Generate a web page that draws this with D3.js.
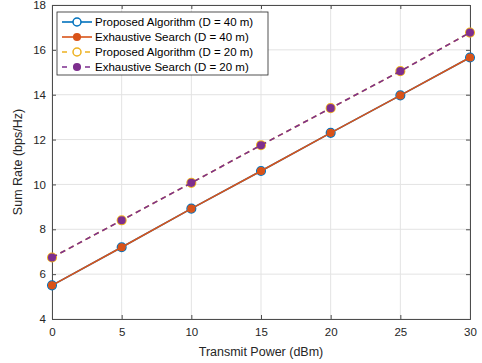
<!DOCTYPE html>
<html>
<head>
<meta charset="utf-8">
<script src="https://cdn.jsdelivr.net/npm/d3@7"></script>
<style>
    body { margin: 0; background: #fff; }
    text { font-family: "Liberation Sans", Arial, sans-serif; }
</style>
</head>
<body>
<script>
const power = [0, 5, 10, 15, 20, 25, 30];
const propD40 = [5.5, 7.2, 8.92, 10.6, 12.3, 13.97, 15.66];
const exhD40 = [5.5, 7.2, 8.92, 10.6, 12.3, 13.97, 15.66];
const propD20 = [6.74, 8.4, 10.07, 11.75, 13.4, 15.05, 16.77];
const exhD20 = [6.74, 8.4, 10.07, 11.75, 13.4, 15.05, 16.77];
const xTicks = [0, 5, 10, 15, 20, 25, 30];
const yTicks = [4, 6, 8, 10, 12, 14, 16, 18];

const series = [
    { name: "Proposed Algorithm (D = 40 m)", values: propD40, color: "#0072BD", dash: null, marker: "open" },
    { name: "Exhaustive Search (D = 40 m)", values: exhD40, color: "#D95319", dash: null, marker: "filled" },
    { name: "Proposed Algorithm (D = 20 m)", values: propD20, color: "#EDB120", dash: "5.5,4", marker: "open" },
    { name: "Exhaustive Search (D = 20 m)", values: exhD20, color: "#7E2F8E", dash: "5.5,4", marker: "filled" }
];

const width = 482, height = 363;
const margin = { top: 5, right: 12, bottom: 44, left: 52 };

const svg = d3.select("body").append("svg")
    .attr("width", width)
    .attr("height", height);

const x = d3.scaleLinear().domain([0, 30]).range([margin.left, width - margin.right]);
const y = d3.scaleLinear().domain([4, 18]).range([height - margin.bottom, margin.top]);

// grid
svg.append("g").selectAll("line.vgrid")
    .data(xTicks).enter().append("line")
    .attr("x1", d => x(d)).attr("x2", d => x(d))
    .attr("y1", y(4)).attr("y2", y(18))
    .attr("stroke", "#e3e3e3").attr("stroke-width", 1);
svg.append("g").selectAll("line.hgrid")
    .data(yTicks).enter().append("line")
    .attr("x1", x(0)).attr("x2", x(30))
    .attr("y1", d => y(d)).attr("y2", d => y(d))
    .attr("stroke", "#e3e3e3").attr("stroke-width", 1);

// axes
const xAxis = svg.append("g")
    .attr("transform", `translate(0,${y(4)})`)
    .call(d3.axisBottom(x).tickValues(xTicks).tickSize(-4).tickPadding(9));
const yAxis = svg.append("g")
    .attr("transform", `translate(${x(0)},0)`)
    .call(d3.axisLeft(y).tickValues(yTicks).tickSize(-4).tickPadding(6));
const xTop = svg.append("g")
    .attr("transform", `translate(0,${y(18)})`)
    .call(d3.axisTop(x).tickValues(xTicks).tickSize(-4).tickFormat(""));
const yRight = svg.append("g")
    .attr("transform", `translate(${x(30)},0)`)
    .call(d3.axisRight(y).tickValues(yTicks).tickSize(-4).tickFormat(""));

[xAxis, yAxis, xTop, yRight].forEach(a => {
    a.select(".domain").attr("stroke", "#4d4d4d").attr("stroke-width", 1);
    a.selectAll(".tick line").attr("stroke", "#4d4d4d");
    a.selectAll("text").attr("font-size", 11.5).attr("fill", "#262626")
        .attr("font-family", "Liberation Sans, Arial, sans-serif");
});

// lines + markers
const line = d3.line().x((d, i) => x(power[i])).y(d => y(d));

series.forEach(s => {
    svg.append("path")
        .datum(s.values)
        .attr("fill", "none")
        .attr("stroke", s.color)
        .attr("stroke-width", 1.6)
        .attr("stroke-dasharray", s.dash)
        .attr("d", line);
    svg.append("g").selectAll("circle")
        .data(s.values).enter().append("circle")
        .attr("cx", (d, i) => x(power[i]))
        .attr("cy", d => y(d))
        .attr("r", s.marker === "open" ? 4.3 : 3.3)
        .attr("fill", s.marker === "open" ? "none" : s.color)
        .attr("stroke", s.color)
        .attr("stroke-width", 1.5);
});

// labels
svg.append("text")
    .attr("x", (x(0) + x(30)) / 2)
    .attr("y", 356)
    .attr("text-anchor", "middle")
    .attr("font-size", 12.5)
    .attr("fill", "#262626")
    .text("Transmit Power (dBm)");

svg.append("text")
    .attr("transform", `translate(22,${(y(4) + y(18)) / 2}) rotate(-90)`)
    .attr("text-anchor", "middle")
    .attr("font-size", 12.5)
    .attr("fill", "#262626")
    .text("Sum Rate (bps/Hz)");

// legend
const legend = svg.append("g").attr("transform", "translate(57,12)");
legend.append("rect")
    .attr("width", 211).attr("height", 63)
    .attr("fill", "#fff").attr("stroke", "#262626").attr("stroke-width", 0.8);

series.forEach((s, i) => {
    const ly = 10 + i * 15;
    legend.append("line")
        .attr("x1", 5).attr("x2", 35)
        .attr("y1", ly).attr("y2", ly)
        .attr("stroke", s.color).attr("stroke-width", 1.6)
        .attr("stroke-dasharray", s.dash ? "5,6.5" : null);
    legend.append("circle")
        .attr("cx", 20).attr("cy", ly)
        .attr("r", s.marker === "open" ? 4 : 3.3)
        .attr("fill", s.marker === "open" ? "#fff" : s.color)
        .attr("stroke", s.color).attr("stroke-width", 1.5);
    legend.append("text")
        .attr("x", 38).attr("y", ly + 4)
        .attr("font-size", 11.5)
        .attr("fill", "#000")
        .text(s.name);
});
</script>
</body>
</html>
